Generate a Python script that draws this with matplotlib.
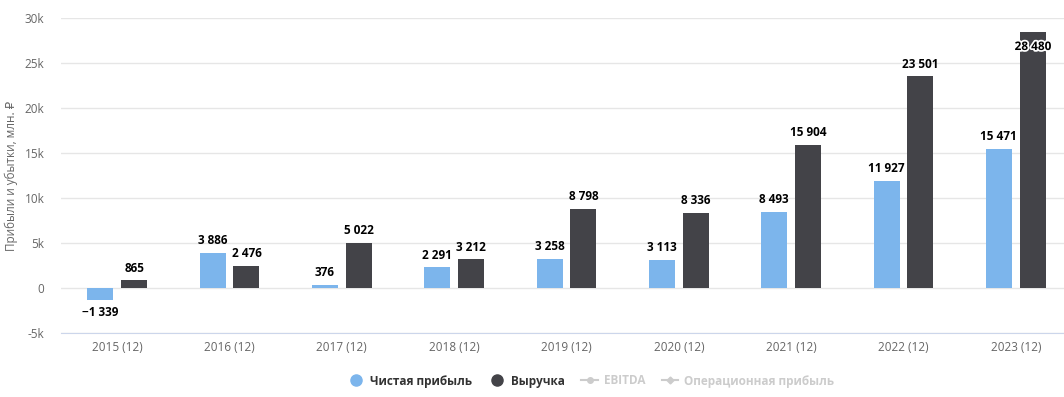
import matplotlib.pyplot as plt
import matplotlib.patheffects as pe
from matplotlib.lines import Line2D
import numpy as np

years = ["2015 (12)", "2016 (12)", "2017 (12)", "2018 (12)", "2019 (12)",
         "2020 (12)", "2021 (12)", "2022 (12)", "2023 (12)"]
net_profit = [-1339, 3886, 376, 2291, 3258, 3113, 8493, 11927, 15471]
revenue = [865, 2476, 5022, 3212, 8798, 8336, 15904, 23501, 28480]
y_ticks = [-5000, 0, 5000, 10000, 15000, 20000, 25000, 30000]
y_tick_labels = ["-5k", "0", "5k", "10k", "15k", "20k", "25k", "30k"]

BLUE = "#7cb5ec"
DARK = "#434348"

plt.rcParams["font.family"] = ["Open Sans", "DejaVu Sans"]


def fmt(v):
    s = f"{abs(v):,}".replace(",", " ")
    return ("\u2212" if v < 0 else "") + s


fig = plt.figure(figsize=(10.64, 3.97), dpi=100)
ax = fig.add_axes([61 / 1064, 1 - 333 / 397, 1011 / 1064, 315 / 397])

x = np.arange(len(years))
w = 0.232
off = 0.151
ax.bar(x - off, net_profit, width=w, color=BLUE, zorder=3)
ax.bar(x + off, revenue, width=w, color=DARK, zorder=3)

ax.set_xlim(-0.5, len(years) - 0.5)
ax.set_ylim(-5000, 30000)
ax.set_yticks(y_ticks)
ax.set_yticklabels(y_tick_labels)
ax.set_xticks(x)
ax.set_xticklabels(years)
ax.tick_params(axis="both", length=0, labelsize=8.5, colors="#666666")
ax.tick_params(axis="y", pad=12)
ax.tick_params(axis="x", pad=6)
ax.grid(axis="y", color="#e6e6e6", linewidth=1, zorder=0)
for s in ["top", "right", "left"]:
    ax.spines[s].set_visible(False)
ax.spines["bottom"].set_color("#ccd6eb")
ax.spines["bottom"].set_position(("data", -5000))

ax.set_ylabel("Прибыли и убытки, млн. ₽", fontsize=8.5, color="#666666")
ax.yaxis.set_label_coords(-43 / 1011, 0.5)

outline = [pe.withStroke(linewidth=2.5, foreground="white")]
for xi, v in zip(x, net_profit):
    if v >= 0:
        ax.annotate(fmt(v), (xi - off, v), xytext=(0, 4), textcoords="offset points",
                    ha="center", va="bottom", fontsize=8.5, fontweight="bold",
                    color="black", zorder=4)
    else:
        ax.annotate(fmt(v), (xi - off, v), xytext=(0, -4), textcoords="offset points",
                    ha="center", va="top", fontsize=8.5, fontweight="bold",
                    color="black", zorder=4)
for xi, v in zip(x, revenue):
    if v > 27000:
        ax.annotate(fmt(v), (xi + off, v), xytext=(0, -6), textcoords="offset points",
                    ha="center", va="top", fontsize=8.5, fontweight="bold",
                    color="black", zorder=4, path_effects=outline)
    else:
        ax.annotate(fmt(v), (xi + off, v), xytext=(0, 4), textcoords="offset points",
                    ha="center", va="bottom", fontsize=8.5, fontweight="bold",
                    color="black", zorder=4)

handles = [
    Line2D([], [], marker="o", linestyle="none", markersize=8, color=BLUE),
    Line2D([], [], marker="o", linestyle="none", markersize=8, color=DARK),
    Line2D([], [], marker="o", linestyle="-", markersize=4, color="#cccccc"),
    Line2D([], [], marker="D", linestyle="-", markersize=3.5, color="#cccccc"),
]
labels = ["Чистая прибыль", "Выручка", "EBITDA", "Операционная прибыль"]
leg = fig.legend(handles, labels, loc="center", bbox_to_anchor=(591 / 1064, 1 - 381 / 397),
                 ncol=4, frameon=False, fontsize=8.5, handlelength=1.4,
                 columnspacing=1.4, handletextpad=0.5)
for t, c in zip(leg.get_texts(), ["#333333", "#333333", "#cccccc", "#cccccc"]):
    t.set_color(c)
    t.set_fontweight("bold")

fig.savefig("out.png", dpi=100)
